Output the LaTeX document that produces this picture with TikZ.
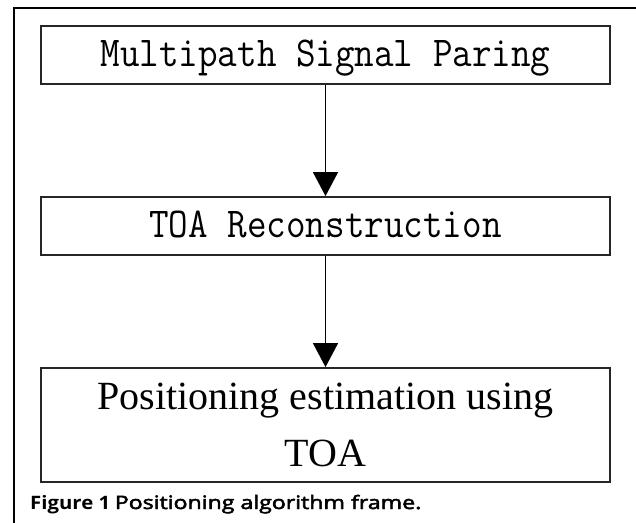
\documentclass[tikz,border=0pt]{standalone}
\usepackage{fontspec}
\setmainfont{Liberation Serif}
\newfontfamily\capbold{Open Sans}[BoldFont={* Bold}]
\newfontfamily\capmid{Open Sans}[FakeBold=2.5]
\usetikzlibrary{arrows.meta}
\begin{document}
\begin{tikzpicture}[x=1pt,y=1pt,
  stepbox/.style={draw=black!85,line width=1.8pt,minimum width=569pt,inner sep=0pt},
  monotext/.style={font=\ttfamily\fontsize{38}{44}\selectfont,text height=25pt,text depth=2pt},
  sertext/.style={font=\fontsize{40}{46}\selectfont,anchor=base,inner sep=0pt},
  flow/.style={line width=1.4pt,-{Triangle[width=25pt,length=24pt]}},
  frameline/.style={line width=1.3pt,black}]
\useasboundingbox (0,0) rectangle (636,522);
\fill[white] (0,0) rectangle (636,522);
% outer frame
\coordinate (fbl) at (14,-2);
\coordinate (ftl) at (14,514);
\coordinate (ftr) at (638,514);
\draw[frameline] (fbl) -- (ftl) -- (ftr);
% boxes
\node[stepbox,minimum height=58pt,monotext] (b1) at (325.5,467) {\scalebox{1}[1.12]{Multipath Signal Paring}};
\node[stepbox,minimum height=58pt,monotext] (b2) at (325.5,296) {\scalebox{1}[1.12]{TOA Reconstruction}};
\node[stepbox,minimum height=114pt] (b3) at (325.5,97) {};
\node[sertext] (t3a) at (325.5,113) {Positioning estimation using};
\node[sertext] (t3b) at (325.5,56) {TOA};
% arrows
\draw[flow] (b1.south) -- (b2.north);
\draw[flow] (b2.south) -- (b3.north);
% caption
\node[anchor=base west,inner sep=0pt,font=\fontsize{18.5}{22}\selectfont] (cap) at (30,13)
  {\scalebox{1.1}[1]{\capbold\bfseries Figure 1} \scalebox{1.25}[1]{\capmid Positioning algorithm frame.}};
\end{tikzpicture}
\end{document}
